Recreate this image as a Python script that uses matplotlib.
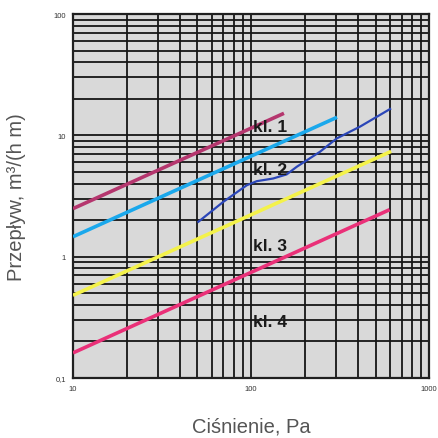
import matplotlib
matplotlib.use('Agg')
from matplotlib import pyplot as plt
from matplotlib.ticker import LogLocator, NullFormatter

plt.rcParams['font.family'] = ['Liberation Sans', 'DejaVu Sans']

# pressure (Pa) and flow (m3/(h m))
kl1_x = [10, 153]
kl1_y = [2.49, 15.2]
cyan_x = [10, 304]
cyan_y = [1.46, 14.1]
kl2_x = [50.6, 69.8, 94.6, 107.6, 133, 158.6, 180.6, 244, 303, 409, 604]
kl2_y = [1.94, 2.83, 3.88, 4.19, 4.41, 4.77, 5.51, 7.33, 9.44, 11.8, 16.5]
kl3_x = [10, 612]
kl3_y = [0.48, 7.38]
kl4_x = [10, 600]
kl4_y = [0.161, 2.44]

class_labels = ['kl. 1', 'kl. 2', 'kl. 3', 'kl. 4']
label_x = [103, 103, 103, 103]
label_y = [11.9, 5.2, 1.24, 0.29]

xticks = [10, 100, 1000]
xtick_labels = ['10', '100', '1000']
yticks = [0.1, 1, 10, 100]
ytick_labels = ['0,1', '1', '10', '100']

fig = plt.figure(figsize=(4.38, 4.39), dpi=100)
ax = fig.add_axes([0.1667, 0.1367, 0.813, 0.829])
ax.set_facecolor('#d9d9d9')

ax.plot(kl1_x, kl1_y, color='#b5366e', lw=2.6, solid_capstyle='butt', zorder=3)
ax.plot(cyan_x, cyan_y, color='#1aa8ec', lw=2.6, solid_capstyle='butt', zorder=3)
ax.plot(kl2_x, kl2_y, color='#2b46b8', lw=1.6, zorder=3)
ax.plot(kl3_x, kl3_y, color='#f4f24a', lw=2.6, solid_capstyle='butt', zorder=3)
ax.plot(kl4_x, kl4_y, color='#ea3078', lw=2.6, solid_capstyle='butt', zorder=3)

for t, x, y in zip(class_labels, label_x, label_y):
    ax.text(x, y, t, fontsize=12.5, fontweight='bold', color='#1a1a1a',
            ha='left', va='center', zorder=4)

ax.set_xscale('log')
ax.set_yscale('log')
ax.set_xlim(10, 1000)
ax.set_ylim(0.1, 100)
ax.set_xticks(xticks)
ax.set_xticklabels(xtick_labels)
ax.set_yticks(yticks)
ax.set_yticklabels(ytick_labels)
ax.xaxis.set_minor_locator(LogLocator(base=10, subs=range(2, 10)))
ax.yaxis.set_minor_locator(LogLocator(base=10, subs=range(2, 10)))
ax.xaxis.set_minor_formatter(NullFormatter())
ax.yaxis.set_minor_formatter(NullFormatter())
ax.tick_params(which='both', length=0, labelsize=5.5, pad=5, colors='#333333')
ax.grid(which='both', color='#151515', lw=1.3, zorder=1)
ax.set_axisbelow(True)
for s in ax.spines.values():
    s.set_color('#202020')
    s.set_linewidth(1.6)

ax.set_xlabel('Ciśnienie, Pa', fontsize=14.5, color='#555555', labelpad=18)
ax.set_ylabel('Przepływ, m³/(h m)', fontsize=14.5, color='#555555', labelpad=20)

fig.savefig('out.png', dpi=100)
